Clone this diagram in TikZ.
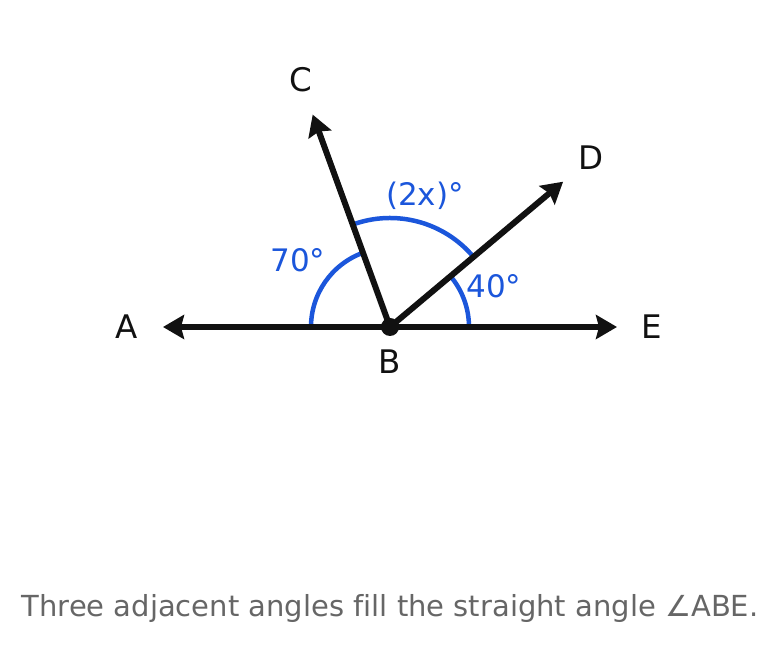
\documentclass[tikz,border=0pt]{standalone}
\usepackage{fontspec}
\setmainfont{DejaVu Sans}[Ligatures=NoCommon]
\usetikzlibrary{arrows.meta}
\definecolor{ink}{HTML}{111111}
\definecolor{arcblue}{HTML}{1B56DB}
\definecolor{capgray}{HTML}{666666}
\tikzset{
  ray/.style={draw=ink, line width=6pt, -{Stealth[length=21pt,width=24pt,inset=3pt]}},
  anglearc/.style={draw=arcblue, line width=4.5pt},
  ptlabel/.style={text=ink, anchor=base, inner sep=0pt, font=\fontsize{32.5}{38}\selectfont},
  anglabel/.style={text=arcblue, anchor=base, inner sep=0pt, font=\fontsize{31}{36}\selectfont},
}
\begin{document}
\begin{tikzpicture}[x=1pt,y=1pt]
\useasboundingbox (0,0) rectangle (780,656);
\coordinate (B) at (390,329);
\coordinate (A) at (163,329);
\coordinate (E) at (617,329);
\path (B) ++(-77.3,212.4) coordinate (C);
\path (B) ++(173.1,145.3) coordinate (D);
% arcs
\draw[anglearc] (B) ++(-79,0) arc[start angle=180, end angle=110, radius=79];
\draw[anglearc] (B) ++(-37.28,102.43) arc[start angle=110, end angle=40, radius=109];
\draw[anglearc] (B) ++(79,0) arc[start angle=0, end angle=40, radius=79];
% rays
\draw[ray] (B) -- (A);
\draw[ray] (B) -- (E);
\draw[ray] (B) -- (C);
\draw[ray] (B) -- (D);
\fill[ink] (B) circle (9);
\node[ptlabel] (lA) at (127,317.5) {A};
\node[ptlabel] (lE) at (652,317.5) {E};
\node[ptlabel] (lC) at (301,564.5) {C};
\node[ptlabel] (lD) at (591,486.5) {D};
\node[ptlabel] (lB) at (390,282.5) {B};
\node[anglabel] (a70) at (298,384) {70°};
\node[anglabel] (a2x) at (425,450) {(2x)°};
\node[anglabel] (a40) at (494,358) {40°};
\node[text=capgray, anchor=base, inner sep=0pt, font=\fontsize{29}{34}\selectfont] (cap) at (390,39) {Three adjacent angles fill the straight angle ∠ABE.};
\end{tikzpicture}
\end{document}
